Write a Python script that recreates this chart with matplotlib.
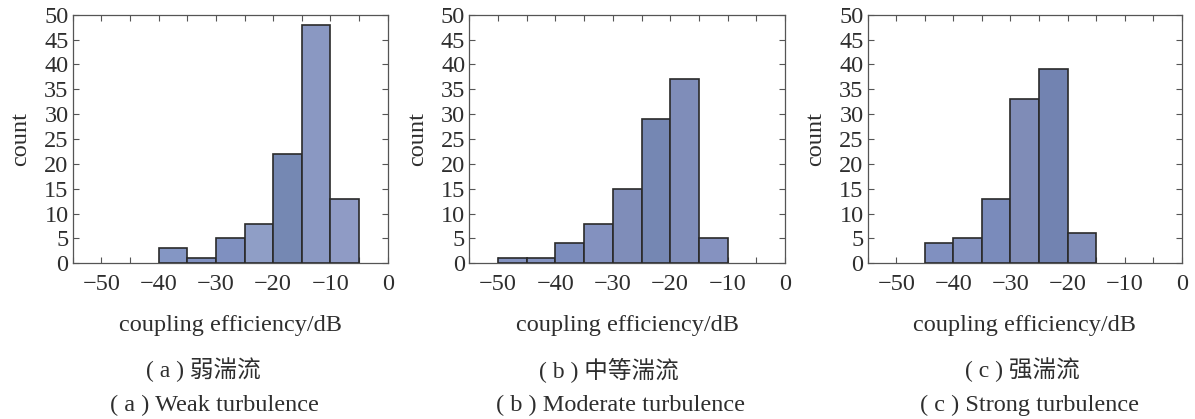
import numpy as np
import matplotlib
matplotlib.use("Agg")
import matplotlib.pyplot as plt
from matplotlib.ticker import MultipleLocator

plt.rcParams['font.family'] = ['Liberation Serif', 'Noto Sans CJK SC', 'DejaVu Sans']
plt.rcParams['font.size'] = 17.5

# bin left edges (dB) and counts
edges_a = [-40, -35, -30, -25, -20, -15, -10]
counts_a = [3, 1, 5, 8, 22, 48, 13]
colors_a = ['#8496c4', '#8090c0', '#7f90c0', '#8f9ec6', '#7588b3', '#8a98c2', '#8f9bc5']

edges_b = [-50, -45, -40, -35, -30, -25, -20, -15]
counts_b = [1, 1, 4, 8, 15, 29, 37, 5]
colors_b = ['#8392c0', '#8392c0', '#7b8cbc', '#8391bf', '#7f8db9', '#7587b3', '#7f8db9', '#8592c0']

edges_c = [-45, -40, -35, -30, -25, -20]
counts_c = [4, 5, 13, 33, 39, 6]
colors_c = ['#8090c0', '#8392c0', '#7a8bbb', '#7f8cb7', '#7283b1', '#7f8db9']

bin_width = 5
xlabel = 'coupling efficiency/dB'
captions_cn = ['( a ) 弱湍流', '( b ) 中等湍流', '( c ) 强湍流']
captions_en = ['( a ) Weak turbulence', '( b ) Moderate turbulence', '( c ) Strong turbulence']

fig = plt.figure(figsize=(11.95, 4.19), dpi=100)
W, H = 1195, 419
lefts = [72.7, 469.3, 867.7]
widths = [315, 315.7, 314]
top, bottom = 14.7, 263.3
cn_x = [203, 609, 1022]
en_x = [214, 620, 1029]

data = [(edges_a, counts_a, colors_a), (edges_b, counts_b, colors_b), (edges_c, counts_c, colors_c)]

for i, (edges, counts, colors) in enumerate(data):
    ax = fig.add_axes([lefts[i] / W, 1 - bottom / H, widths[i] / W, (bottom - top) / H])
    ax.bar(edges, counts, width=bin_width, align='edge', color=colors,
           edgecolor='#2a2a2a', linewidth=1.2, zorder=3)
    ax.set_xlim(-55, 0)
    ax.set_ylim(0, 50)
    ax.xaxis.set_major_locator(MultipleLocator(10))
    ax.xaxis.set_minor_locator(MultipleLocator(5))
    ax.yaxis.set_major_locator(MultipleLocator(5))
    ax.tick_params(which='both', direction='in', top=True, right=True,
                   length=4, width=0.8, color='#555555', labelcolor='#2e2e2e')
    ax.tick_params(axis='x', pad=8)
    ax.tick_params(axis='y', pad=3)
    ax.set_xticks(np.arange(-50, 1, 10))
    ax.set_xticklabels(['\u221250', '\u221240', '\u221230', '\u221220', '\u221210', '0'])
    for s in ax.spines.values():
        s.set_color('#555555')
        s.set_linewidth(0.9)
    ax.set_ylabel('count', color='#2e2e2e', labelpad=9)
    ax.set_xlabel(xlabel, color='#2e2e2e', labelpad=14)

    fig.text(cn_x[i] / W, 1 - 370 / H, captions_cn[i], ha='center', va='center',
             color='#2e2e2e', fontsize=17)
    fig.text(en_x[i] / W, 1 - 405 / H, captions_en[i], ha='center', va='center',
             color='#2e2e2e', fontsize=17.5)

fig.savefig('out.png', dpi=100)
